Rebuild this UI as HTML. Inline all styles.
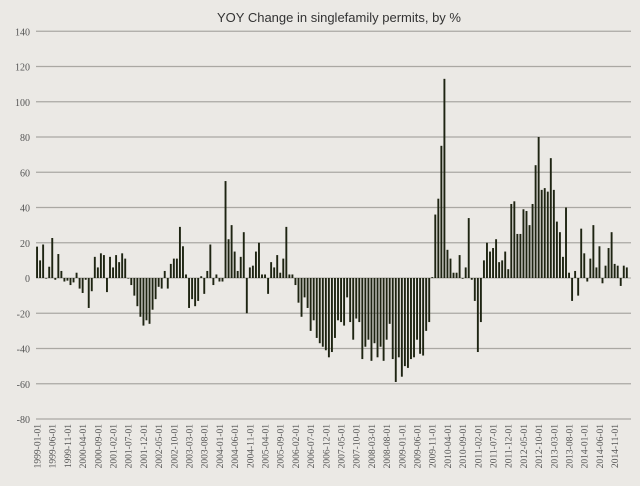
<!DOCTYPE html>
<html><head><meta charset="utf-8"><style>
body{margin:0;background:#ebe9e5;}
svg{display:block;}
</style></head><body>
<svg id="chart" width="640" height="486" xmlns="http://www.w3.org/2000/svg">
<rect width="640" height="486" fill="#ebe9e5"/>
<text x="339" y="22" text-anchor="middle" font-family="Liberation Sans, sans-serif" font-size="13" fill="#333">YOY Change in singlefamily permits, by %</text>
<g id="grid"></g><g id="bars"></g><g id="xlabels"></g><g id="ylabels"></g>
</svg>
<script>
const yTicks = [-80,-60,-40,-20,0,20,40,60,80,100,120,140];
const startYear = 1999, startMonth = 1;
const values = [
17.8,10,19,0,6.4,22.7,-1,13.6,4,-2,-1.5,-4,-2.5,3,-6,-8.5,-1,-17,-7.5,12,6,14,13,-8,12,6,13,9,14,11,0,
-4,-10,-16,-22,-27,-24,-26,-18,-12,-5,-6,4,-6,8,11,11,
29,18,2,-17,-12,-16,-13,1,-9,4,19,-4,2,-2,-2,55,22,30,15,4,12,26,-20,6,7,15,20,2,2,-9,9,6,13,3,11,29,2,2,
-4,-14,-22,-11,-17,-30,-24,-34,-37,-39,-41,-45,-42,-34,-24,-25,-27,-11,-25,-35,-23,-25,-46,-39,-35,-47,-37,-45,-39,-47,-35,-26,-46,-59,-45,-56,-50,-51,-46,-45,-35,-43,-44,-30,-25,
0.5,36,45,75,113,16,11,3,3,13,-0.4,6,34,-1,-13,-42,-25,10,20,15,17,22,9,
10,15,5,42,43.5,25,25,39,38,30,42,64,80,50,51,49,68,50,32,26,12,40,3,-13,4,-10,28,14,-2,11,30,6,18,-3,7,17,26,8,7,-4.5,7,6
];
const labelEvery = 5;
const NS="http://www.w3.org/2000/svg";
const y0=278, pxPerUnit=35.25/20;
function yScale(v){return y0 - v*pxPerUnit;}
function xScale(i){return 37 + i*3.04;}
const grid=document.getElementById('grid'), bars=document.getElementById('bars'),
 xl=document.getElementById('xlabels'), yl=document.getElementById('ylabels');
yTicks.forEach(t=>{
  const l=document.createElementNS(NS,'line');
  l.setAttribute('x1',36);l.setAttribute('x2',631);
  l.setAttribute('y1',yScale(t));l.setAttribute('y2',yScale(t));
  l.setAttribute('stroke',t===0?'#b5b3ae':'#aaa8a3');l.setAttribute('stroke-width',1.3);
  
  
  grid.appendChild(l);
  const tx=document.createElementNS(NS,'text');
  tx.setAttribute('x',30);tx.setAttribute('y',yScale(t)+4);
  tx.setAttribute('text-anchor','end');tx.setAttribute('font-family','Liberation Serif, serif');
  tx.setAttribute('font-size','10');tx.setAttribute('fill','#555');
  tx.textContent=t;
  
  
  yl.appendChild(tx);
});
values.forEach((v,i)=>{
  const r=document.createElementNS(NS,'rect');
  const yt=Math.min(yScale(v),y0), h=Math.max(Math.abs(yScale(v)-y0),0.6);
  r.setAttribute('x',xScale(i)-0.9);r.setAttribute('width',1.9);
  r.setAttribute('y',yt);r.setAttribute('height',h);
  r.setAttribute('fill','#1e2412');
  
  
  bars.appendChild(r);
  if(i%labelEvery===0){
    const m=startMonth-1+i, yr=startYear+Math.floor(m/12), mo=(m%12)+1;
    const s=yr+'-'+(mo<10?'0':'')+mo+'-01';
    const tx=document.createElementNS(NS,'text');
    const x=xScale(i)+3.5;
    tx.setAttribute('transform','translate('+x+',424) rotate(-90)');
    tx.setAttribute('text-anchor','end');tx.setAttribute('font-family','Liberation Serif, serif');
    tx.setAttribute('font-size','9.5');tx.setAttribute('fill','#555');
    tx.textContent=s;
    
    
    xl.appendChild(tx);
  }
});
</script>
</body></html>
